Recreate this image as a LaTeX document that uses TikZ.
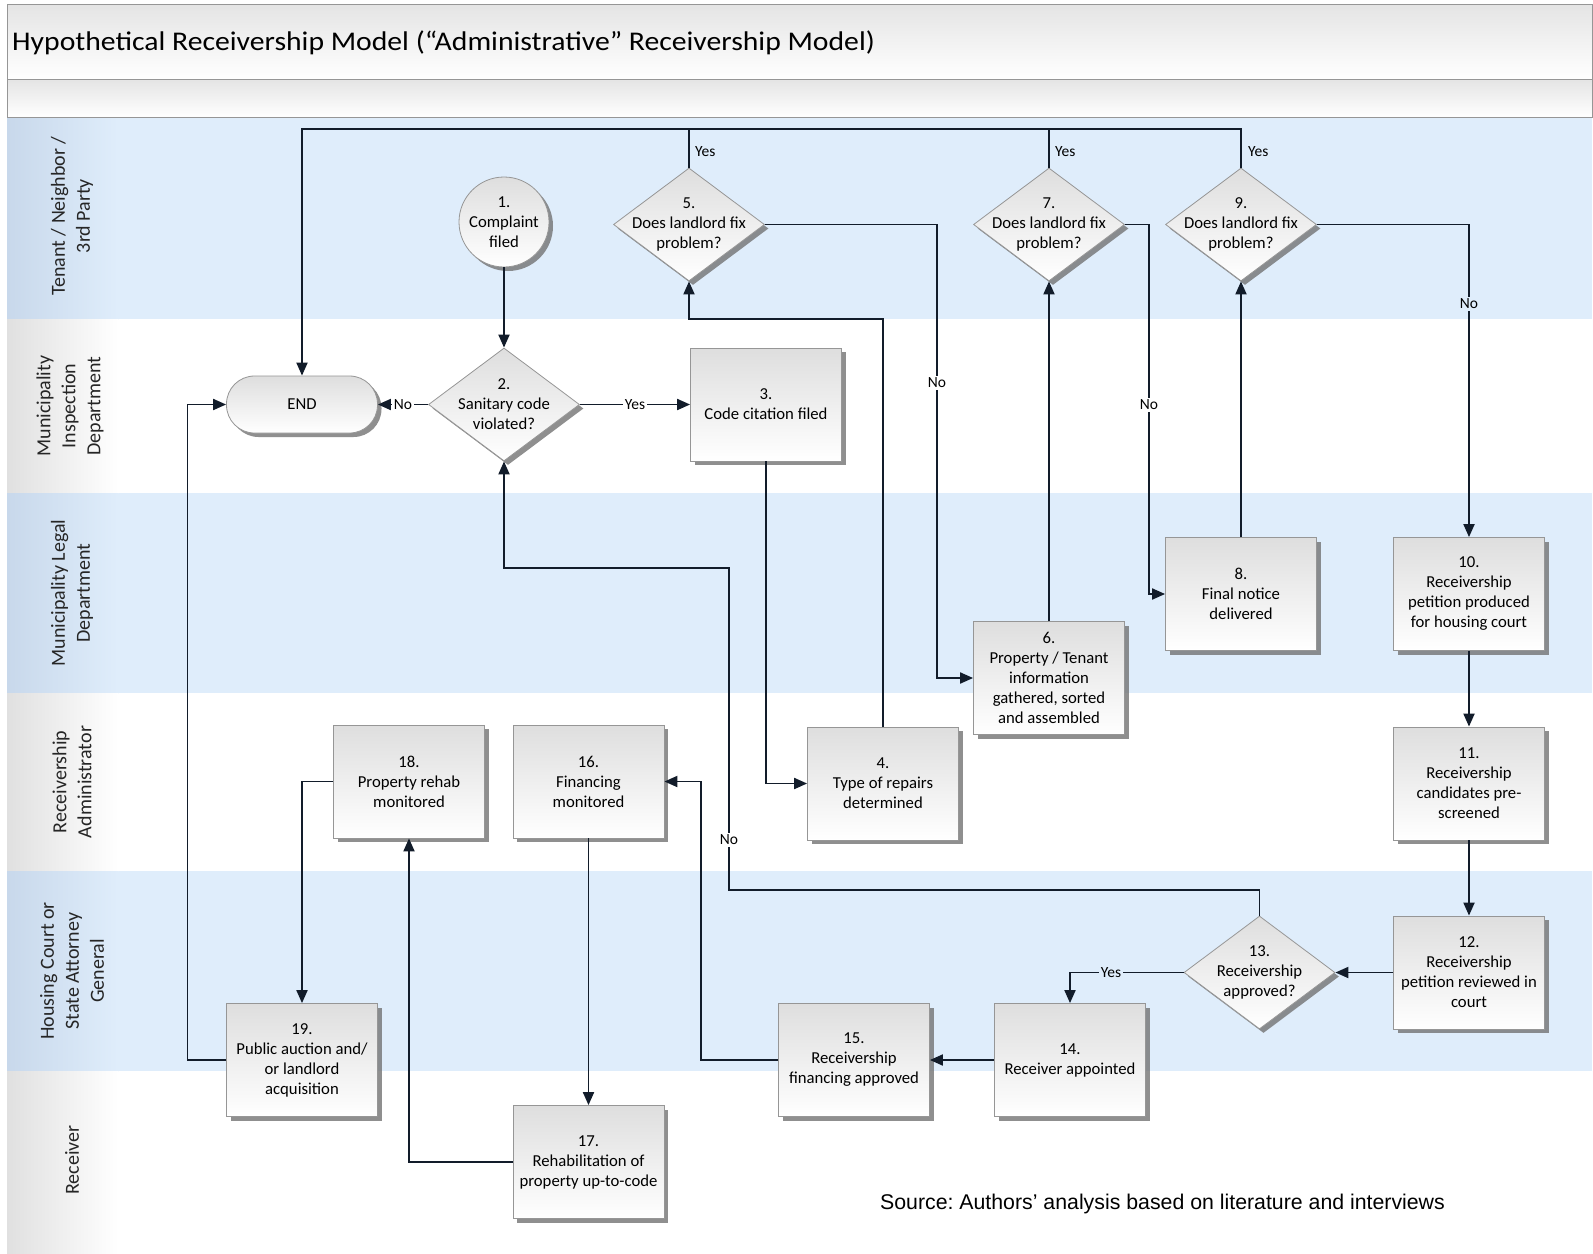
\documentclass[tikz,border=0pt]{standalone}
\usepackage{fontspec}
\setmainfont{Carlito}
\newfontfamily\srcfont{Liberation Sans}
\usetikzlibrary{shapes.geometric,shadows,arrows.meta,calc}

\definecolor{laneblue}{RGB}{223,237,251}
\definecolor{hdrblue}{RGB}{200,216,235}
\definecolor{hdrgray}{RGB}{224,224,224}
\definecolor{edgec}{RGB}{18,28,42}
\definecolor{boxborder}{RGB}{150,150,150}
\definecolor{boxtop}{RGB}{222,222,222}
\definecolor{framec}{RGB}{150,150,150}
\definecolor{bandtop}{RGB}{228,228,228}

\tikzset{
  nodefont/.style={font=\fontsize{16.7}{20}\selectfont},
  shadebox/.style={top color=boxtop, bottom color=white, draw=boxborder, line width=0.8pt,
    drop shadow={shadow xshift=4pt, shadow yshift=-4pt, fill=black!55, opacity=0.8}},
  proc/.style={shadebox, rectangle, minimum width=151pt, minimum height=113pt, inner sep=0pt, align=center, nodefont},
  dec/.style={shadebox, diamond, minimum width=151pt, minimum height=113pt, inner sep=0pt,
    label={[nodefont,align=center,inner sep=0pt]center:#1}},
  term/.style={shadebox, rectangle, rounded corners=28pt, minimum width=151pt, minimum height=57pt, inner sep=0pt, nodefont},
  startc/.style={shadebox, circle, minimum size=90pt, inner sep=0pt, align=center, nodefont},
  conn/.style={draw=edgec, line width=1.9pt},
  arr/.style={conn, -{Triangle[length=13pt,width=11pt]}},
  lbl/.style={font=\fontsize{15.5}{18}\selectfont, fill=white, inner sep=1.5pt},
  lblb/.style={lbl, fill=laneblue},
  yeslbl/.style={font=\fontsize{15.5}{18}\selectfont, anchor=west, inner sep=0pt},
  lanelbl/.style={rotate=90, align=center, font=\fontsize{20}{25}\selectfont, text=black!85}
}

\begin{document}
\begin{tikzpicture}[x=1pt,y=-1pt]
\useasboundingbox (0,0) rectangle (1593,1253);
\fill[white] (0,0) rectangle (1593,1253);

% title bands
\shade[top color=bandtop, bottom color=white] (7,4) rectangle (1592,79);
\shade[top color=bandtop, bottom color=white] (7,79) rectangle (1592,117);
\draw[framec, line width=1pt] (7,4) rectangle (1592,117);
\draw[framec, line width=1pt] (7,79) -- (1592,79);
\node[anchor=base west, font=\fontsize{27}{30}\selectfont, inner sep=0pt] (title) at (12,50)
  {\scalebox{1.1}[1]{Hypothetical Receivership Model (“Administrative” Receivership Model)}};

% lanes
\fill[laneblue] (7,118) rectangle (1592,319);
\fill[white] (7,319) rectangle (1592,493);
\fill[laneblue] (7,493) rectangle (1592,693);
\fill[white] (7,693) rectangle (1592,871);
\fill[laneblue] (7,871) rectangle (1592,1071);
\fill[white] (7,1071) rectangle (1592,1253);
\shade[left color=hdrblue, right color=laneblue] (7,118) rectangle (118,319);
\shade[left color=hdrgray, right color=white] (7,319) rectangle (118,493);
\shade[left color=hdrblue, right color=laneblue] (7,493) rectangle (118,693);
\shade[left color=hdrgray, right color=white] (7,693) rectangle (118,871);
\shade[left color=hdrblue, right color=laneblue] (7,871) rectangle (118,1071);
\shade[left color=hdrgray, right color=white] (7,1071) rectangle (118,1253);

\node[lanelbl] (L1) at (72,216) {Tenant / Neighbor /\\3rd Party};
\node[lanelbl] (L2) at (70,406) {Municipality\\Inspection\\Department};
\node[lanelbl] (L3) at (72,593) {Municipality Legal\\Department};
\node[lanelbl] (L4) at (72,782) {Receivership\\Administrator};
\node[lanelbl] (L5) at (72,971) {Housing Court or\\State Attorney\\General};
\node[lanelbl] (L6) at (72,1160) {Receiver};

% nodes
\node[term] (endn) at (302,404.5) {END};
\node[startc] (n1) at (504,222) {1.\\Complaint\\filed};
\node[dec={2.\\Sanitary code\\violated?}] (n2) at (504,404.5) {};
\node[proc] (n3) at (766,404.5) {3.\\Code citation filed};
\node[proc] (n4) at (883,783.5) {4.\\Type of repairs\\determined};
\node[dec={5.\\Does landlord fix\\problem?}] (n5) at (689,224.5) {};
\node[proc] (n6) at (1049,678) {6.\\Property / Tenant\\information\\gathered, sorted\\and assembled};
\node[dec={7.\\Does landlord fix\\problem?}] (n7) at (1049,224.5) {};
\node[proc] (n8) at (1241,594) {8.\\Final notice\\delivered};
\node[dec={9.\\Does landlord fix\\problem?}] (n9) at (1241,224.5) {};
\node[proc] (n10) at (1469,594) {10.\\Receivership\\petition produced\\for housing court};
\node[proc] (n11) at (1469,783.5) {11.\\Receivership\\candidates pre-\\screened};
\node[proc] (n12) at (1469,972.5) {12.\\Receivership\\petition reviewed in\\court};
\node[dec={13.\\Receivership\\approved?}] (n13) at (1259.5,972.5) {};
\node[proc] (n14) at (1070,1060) {14.\\Receiver appointed};
\node[proc] (n15) at (854,1060) {15.\\Receivership\\financing approved};
\node[proc] (n16) at (588.5,781.5) {16.\\Financing\\monitored};
\node[proc] (n17) at (588.5,1162) {17.\\Rehabilitation of\\property up-to-code};
\node[proc] (n18) at (409,781.5) {18.\\Property rehab\\monitored};
\node[proc] (n19) at (302,1060) {19.\\Public auction and/\\or landlord\\acquisition};

% routing coordinates
\coordinate (topY) at (0,129);
\coordinate (lb12) at (0,319);
\coordinate (x5) at (937,0);
\coordinate (x7) at (1149,0);
\coordinate (k1) at (729,890);
\coordinate (k2) at (729,568);
\coordinate (x15) at (701,0);
\coordinate (x19) at (187.5,0);

% connectors
\draw[arr] (n1.south) -- (n2.north);
\draw[arr] (n2.west) -- node[lbl] (lNo2) {No} (endn.east);
\draw[arr] (n2.east) -- node[lbl] (lYes2) {Yes} (n3.west);
\draw[arr] (n3.south) |- (n4.west);
\draw[arr] (n4.north) -- (n4.north |- lb12) -| (n5.south);
\draw[arr] (n5.east) -| (x5 |- n6.west) -- (n6.west);
\draw[arr] (n6.north) -- (n7.south);
\draw[arr] (n7.east) -| (x7 |- n8.west) -- (n8.west);
\draw[arr] (n8.north) -- (n9.south);
\draw[arr] (n9.east) -| (n10.north);
\draw[arr] (n10.south) -- (n11.north);
\draw[arr] (n11.south) -- (n12.north);
\draw[arr] (n12.west) -- (n13.east);
\draw[arr] (n13.west) -| (n14.north);
\draw[arr] (n14.west) -- (n15.east);
\draw[arr] (n15.west) -| (x15 |- n16.east) -- (n16.east);
\draw[arr] (n16.south) -- (n17.north);
\draw[arr] (n17.west) -| (n18.south);
\draw[arr] (n18.west) -| (n19.north);
\draw[arr] (n19.west) -| (x19 |- endn.west) -- (endn.west);
\draw[arr] (n13.north) |- (k1) -- (k2) -| (n2.south);
\draw[conn] (n5.north) -- (n5.north |- topY);
\draw[conn] (n7.north) -- (n7.north |- topY);
\draw[arr] (n9.north) -- (n9.north |- topY) -| (endn.north);

% connector labels
\node[lbl] (lNo5) at (937,383) {No};
\node[lbl] (lNo7) at (1149,405) {No};
\node[lblb] (lNo9) at (1469,304) {No};
\node[lblb] (lYes13) at (1111,972.5) {Yes};
\node[lbl] (lNo13) at (729,840) {No};
\node[yeslbl] (lYes5) at (695,152) {Yes};
\node[yeslbl] (lYes7) at (1055,152) {Yes};
\node[yeslbl] (lYes9) at (1248,152) {Yes};

% source
\node[font=\srcfont\fontsize{21.3}{24}\selectfont, inner sep=0pt] (src) at (1162.5,1204)
  {\frenchspacing Source: Authors’ analysis based on literature and interviews};
\end{tikzpicture}
\end{document}
